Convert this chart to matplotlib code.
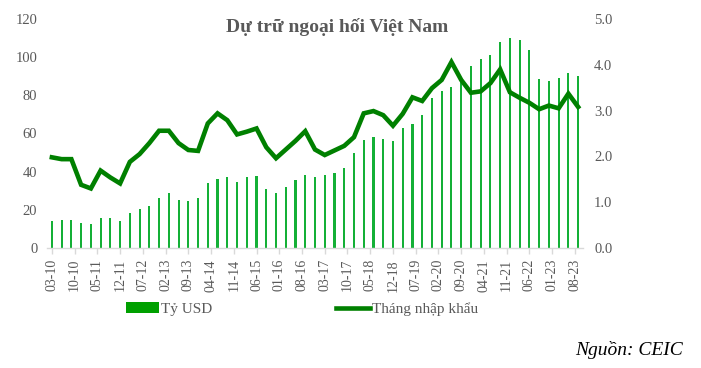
import numpy as np
import matplotlib
matplotlib.use("Agg")
import matplotlib.pyplot as plt
from matplotlib.patches import Patch
from matplotlib.lines import Line2D

# ----- DATA (quarterly, 03-2010 .. 09-2023) -----
reserves_busd = [14.1, 14.7, 14.7, 12.9, 12.6, 15.7, 15.9, 14.1, 18.3, 20.5,
                 22.0, 26.0, 28.8, 25.1, 24.8, 26.2, 34.0, 36.1, 37.0, 34.6,
                 37.2, 37.7, 30.9, 28.6, 31.9, 35.4, 38.0, 37.0, 38.2, 39.5,
                 41.7, 49.6, 56.7, 58.1, 57.2, 56.0, 62.8, 64.8, 69.6, 78.8,
                 82.4, 84.2, 88.0, 95.5, 99.0, 101.0, 107.7, 110.0, 108.9, 103.7,
                 88.3, 87.3, 89.0, 91.8, 90.0]
import_months = [1.98, 1.94, 1.94, 1.38, 1.30, 1.69, 1.54, 1.41, 1.88, 2.05,
                 2.29, 2.56, 2.56, 2.29, 2.14, 2.12, 2.72, 2.94, 2.79, 2.48,
                 2.54, 2.61, 2.20, 1.96, 2.15, 2.34, 2.55, 2.15, 2.03, 2.13,
                 2.23, 2.42, 2.94, 2.99, 2.90, 2.67, 2.93, 3.29, 3.21, 3.49,
                 3.67, 4.06, 3.67, 3.39, 3.42, 3.60, 3.90, 3.40, 3.28, 3.17,
                 3.03, 3.11, 3.05, 3.37, 3.08]
tick_labels = ["03-10", "10-10", "05-11", "12-11", "07-12", "02-13", "09-13", "04-14",
               "11-14", "06-15", "01-16", "08-16", "03-17", "10-17", "05-18", "12-18",
               "07-19", "02-20", "09-20", "04-21", "11-21", "06-22", "01-23", "08-23"]

# months counted from 01-2010
months = 2 + 3 * np.arange(len(reserves_busd))
tick_pos = 2 + 7 * np.arange(len(tick_labels))

GRAY = "#595959"
BAR_GREEN = "#14B036"
LEG_GREEN = "#00A000"
LINE_GREEN = "#008000"

plt.rcParams["font.family"] = ["Liberation Serif", "DejaVu Serif"]

fig = plt.figure(figsize=(7.01, 3.68), dpi=100)
ax = fig.add_axes([47 / 701, 1 - 248 / 368, (583 - 47) / 701, (248 - 19) / 368])
ax2 = ax.twinx()

ax.bar(months, reserves_busd, width=0.65, color=BAR_GREEN, zorder=2)
ax2.plot(months, import_months, color=LINE_GREEN, lw=3.3, solid_joinstyle="miter", zorder=3)

ax.set_xlim(0.5, 165.5)
ax.set_ylim(0, 120)
ax.set_yticks(np.arange(0, 121, 20))
ax2.set_ylim(0, 5)
ax2.set_yticks(np.arange(0, 5.01, 1.0))
ax2.set_yticklabels([f"{v:.1f}" for v in np.arange(0, 5.01, 1.0)])

ax.set_xticks(tick_pos)
ax.set_xticklabels(tick_labels, rotation=90)

for a in (ax, ax2):
    for s in a.spines.values():
        s.set_visible(False)
ax.spines["bottom"].set_visible(True)
ax.spines["bottom"].set_color("#D9D9D9")
ax.spines["bottom"].set_linewidth(1.0)

ax.tick_params(axis="x", colors="#D9D9D9", length=4, width=1, pad=4, labelsize=10,
               labelcolor=GRAY)
ax.tick_params(axis="y", length=0, pad=7, labelsize=10.5, labelcolor=GRAY)
ax2.tick_params(axis="y", length=0, pad=8, labelsize=10.5, labelcolor=GRAY)

fig.text(337 / 701, 1 - 27 / 368, "Dự trữ ngoại hối Việt Nam", ha="center", va="center",
         fontsize=14, fontweight="bold", color=GRAY)

handles = [Patch(facecolor=LEG_GREEN, edgecolor="none"),
           Line2D([], [], color=LINE_GREEN, lw=3.3)]
fig.legend(handles, ["Tỷ USD", "Tháng nhập khẩu"], loc="center",
           bbox_to_anchor=(302 / 701, 1 - 309 / 368), ncol=2, frameon=False,
           fontsize=11, labelcolor=GRAY, handlelength=2.2, handletextpad=0.15,
           columnspacing=8.1)

fig.text(683 / 701, 1 - 350 / 368, "Nguồn: CEIC", ha="right", va="center",
         fontsize=14, style="italic", color="black")

fig.savefig("out.png", dpi=100)
